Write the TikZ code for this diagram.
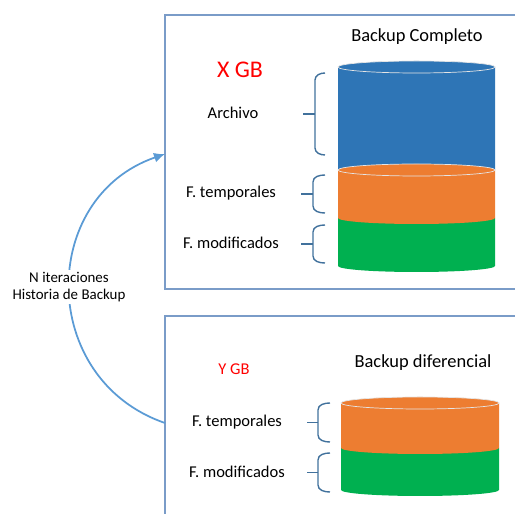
\documentclass[tikz,border=0pt]{standalone}
\usepackage{fontspec}
\setmainfont{Carlito}
\usetikzlibrary{arrows.meta}

\definecolor{marco}{HTML}{7A9CC8}
\definecolor{flecha}{HTML}{5B9BD5}
\definecolor{llavecol}{HTML}{41719C}
\definecolor{azul}{HTML}{2E75B6}
\definecolor{naranja}{HTML}{ED7D31}
\definecolor{verde}{HTML}{00B050}

\tikzset{
  caja/.style={draw=marco,line width=0.85pt},
  etiq/.style={font=\fontsize{9.4}{11}\selectfont,inner sep=1pt},
  titulo/.style={font=\fontsize{10.5}{12}\selectfont,inner sep=1pt},
  tam/.style={text=red,inner sep=1pt},
  borde/.style={draw=white!80!gray,line width=0.4pt},
  llaveest/.style={draw=llavecol,line width=0.8pt},
}

% capa del cilindro: centro x, radio x, y arriba, y abajo, color
\newcommand{\capa}[5]{%
  \fill[#5] ({#1-#2},#3) -- ({#1-#2},#4)
    arc[start angle=180,end angle=360,x radius=#2,y radius=6] -- ({#1+#2},#3) -- cycle;}
% llave: x punta, x vertical, x extremos, y arriba, y abajo
\newcommand{\llave}[5]{%
  \draw[llaveest] (#3,#4) to[out=180,in=90] (#2,{#4-7}) -- (#2,{#5+7}) to[out=-90,in=180] (#3,#5);
  \draw[llaveest] (#1,{(#4+#5)/2}) -- (#2,{(#4+#5)/2});}

\begin{document}
\begin{tikzpicture}[x=0.02cm,y=0.02cm]
\useasboundingbox (0,0) rectangle (515,514);
\clip (0,0) rectangle (515,514);

% cajas
\draw[caja] (165,499) rectangle (540,225);
\draw[caja] (165,198) rectangle (540,-20);

% backup completo
\capa{416.5}{78.5}{447}{344}{azul}
\filldraw[fill=azul,borde] (416.5,447) ellipse[x radius=78.5,y radius=6];
\capa{416.5}{78.5}{296}{248}{verde}
\capa{416.5}{78.5}{344}{296}{naranja}
\filldraw[fill=naranja,borde] (416.5,344) ellipse[x radius=78.5,y radius=6];

\node[titulo] (tcomp) at (417,477) {Backup Completo};
\node[tam,font=\fontsize{13.6}{15}\selectfont] (xgb) at (240,444) {X GB};
\node[etiq] (arch) at (233,401) {Archivo};
\node[etiq] (temp1) at (231,321) {F. temporales};
\node[etiq] (mod1) at (231,271) {F. modificados};
\llave{303}{315}{325}{441}{359}
\llave{301}{313}{325}{339}{301}
\llave{301}{313}{325}{289}{251}

% backup diferencial
\capa{420}{79}{66}{24}{verde}
\capa{420}{79}{111}{66}{naranja}
\filldraw[fill=naranja,borde] (420,111) ellipse[x radius=79,y radius=6];

\node[titulo] (tdif) at (423,151) {Backup diferencial};
\node[tam,font=\fontsize{9.4}{11}\selectfont] (ygb) at (234,145) {Y GB};
\node[etiq] (temp2) at (237,92) {F. temporales};
\node[etiq] (mod2) at (237,42) {F. modificados};
\llave{307}{318}{330}{111}{72}
\llave{307}{318}{330}{61}{22}

% iteraciones
\coordinate (ini) at (165,91);
\coordinate (fin) at (165,360);
\draw[flecha,line width=1pt,-{Latex[length=2.2mm,width=2mm]}]
  (ini) to[out=161,in=199,looseness=1.28] (fin);
\node[fill=white,align=center,inner sep=1pt,font=\fontsize{8.5}{10}\selectfont] (iter) at (69,227)
  {N iteraciones\\Historia de Backup};
\end{tikzpicture}
\end{document}
